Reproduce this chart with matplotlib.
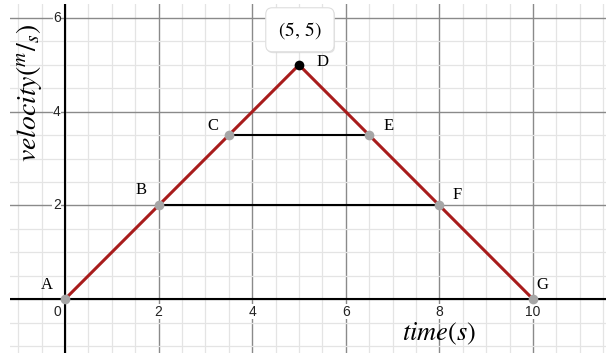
import matplotlib
matplotlib.use("Agg")
import matplotlib.pyplot as plt
import numpy as np
from matplotlib.patches import FancyBboxPatch

# data
names = ["A", "B", "C", "D", "E", "F", "G"]
times = [0, 2, 3.5, 5, 6.5, 8, 10]
velocities = [0, 2, 3.5, 5, 3.5, 2, 0]
label_dx = [-0.38, -0.38, -0.34, 0.5, 0.42, 0.38, 0.21]
label_dy = [0.30, 0.33, 0.20, 0.06, 0.20, 0.22, 0.30]
xticks = [0, 2, 4, 6, 8, 10]
yticks = [2, 4, 6]
hlines = [(1, 5), (2, 4)]  # index pairs joined horizontally

plt.rcParams['mathtext.fontset'] = 'stix'

fig = plt.figure(figsize=(6.13, 3.53), dpi=100)
ax = fig.add_axes([10/613, 0, 596/613, 349/353])
x0, x1 = -1.175, 11.56
y0, y1 = -1.15, 6.30
ax.set_xlim(x0, x1)
ax.set_ylim(y0, y1)
for s in ax.spines.values():
    s.set_visible(False)
ax.set_xticks([]); ax.set_yticks([])

# grid
for xv in np.arange(-1.0, 11.6, 0.5):
    major = abs(xv / 2 - round(xv / 2)) < 1e-9
    ax.axvline(xv, color='#8a8a8a' if major else '#e4e4e4', lw=1.0 if major else 0.9, zorder=0)
for yv in np.arange(-1.0, 6.31, 0.5):
    major = abs(yv / 2 - round(yv / 2)) < 1e-9
    ax.axhline(yv, color='#8a8a8a' if major else '#e4e4e4', lw=1.0 if major else 0.9, zorder=0)

ax.axhline(0, color='black', lw=1.5, zorder=1)
ax.axvline(0, color='black', lw=1.5, zorder=1)

# tick labels
tk = dict(fontsize=10, color='#222222', family='Liberation Sans',
          bbox=dict(facecolor='white', edgecolor='none', pad=0.3))
for t in xticks:
    ax.text(-0.17 if t == 0 else t, -0.12, str(t), ha='center', va='top', **tk)
for t in yticks:
    ax.text(-0.09, t, str(t), ha='right', va='center', **tk)

# horizontal lines
for i, j in hlines:
    ax.plot([times[i], times[j]], [velocities[i], velocities[j]], color='black', lw=1.5, zorder=2)

# main polyline
ax.plot(times, velocities, color='#a81c1c', lw=2.2, zorder=3)
for k, (t, v) in enumerate(zip(times, velocities)):
    c = 'black' if names[k] == 'D' else '#a6a6a6'
    ax.plot(t, v, 'o', ms=7, color=c, mec='none', zorder=4)
    ax.text(t + label_dx[k], v + label_dy[k], names[k], fontsize=12, family='Liberation Serif',
            ha='center', va='center', zorder=5)

# coordinate box (shadow + box)
shadow = FancyBboxPatch((4.31, 5.25), 1.46, 0.94, boxstyle="round,pad=0,rounding_size=0.14",
                        facecolor='#d0d0d0', edgecolor='none', alpha=0.6, zorder=6)
ax.add_patch(shadow)
box = FancyBboxPatch((4.29, 5.28), 1.46, 0.94, boxstyle="round,pad=0,rounding_size=0.14",
                     facecolor='white', edgecolor='#dedede', lw=0.8, zorder=6)
ax.add_patch(box)
ax.text(5.02, 5.74, r"$(5,\,5)$", fontsize=14, ha='center', va='center', zorder=7)

# axis labels
ax.text(8.0, -0.74, r"$time(s)$", fontsize=19, ha='center', va='center', zorder=5)
ax.text(-0.76, 4.4, r"$velocity(^{m}/_{s})$", fontsize=20, ha='center', va='center',
        rotation=90, zorder=5)

fig.savefig("out.png", dpi=100)
